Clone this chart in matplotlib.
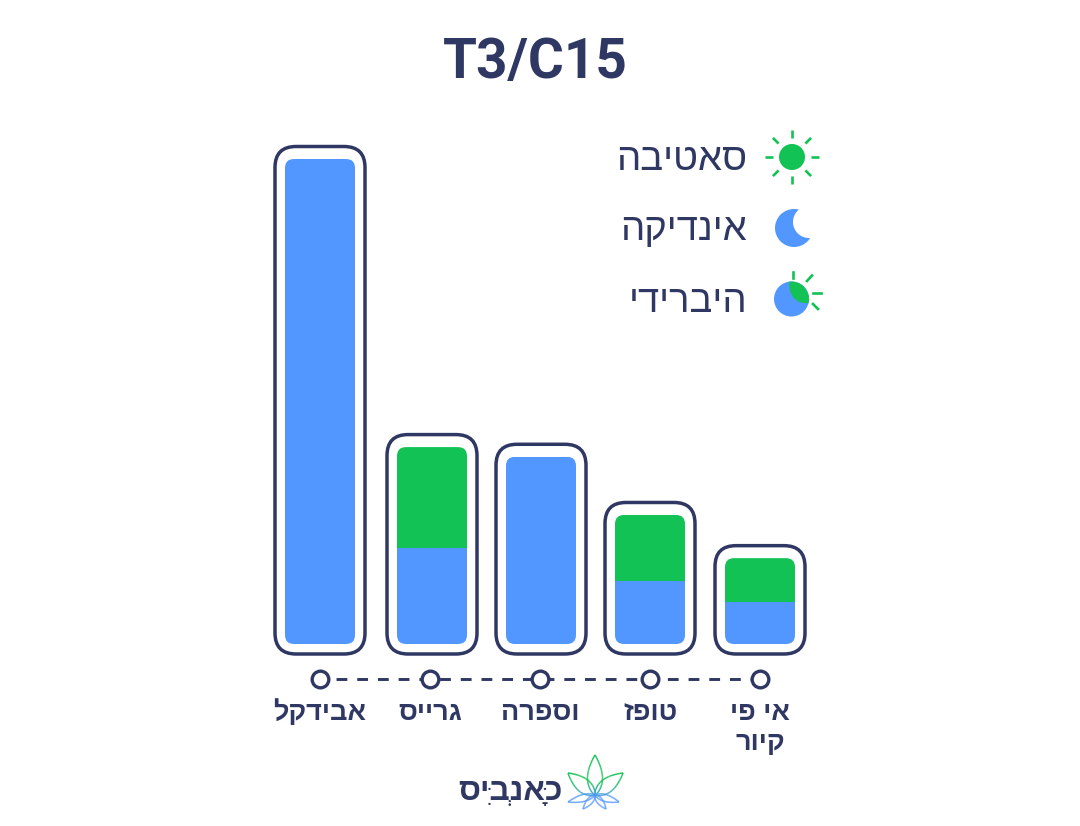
import unicodedata

import numpy as np
import matplotlib
matplotlib.use("Agg")
import matplotlib.pyplot as plt
from matplotlib.collections import LineCollection
from matplotlib.colors import to_rgb
from matplotlib.patches import Circle, FancyBboxPatch, PathPatch
from matplotlib.path import Path

plt.rcParams["font.family"] = ["Liberation Sans", "DejaVu Sans"]

TITLE = "T3/C15"
CATEGORIES = ["אבידקל", "גרייס", "וספרה", "טופז", "אי פי\nקיור"]
INDICA = [100.0, 19.8, 38.6, 13.0, 8.7]
SATIVA = [0.0, 20.8, 0.0, 13.6, 9.0]
LEGEND_LABELS = ["סאטיבה", "אינדיקה", "היברידי"]
LOGO_TEXT = "כָּאנְבִּיס"

NAVY = "#2f3763"
BLUE = "#5197ff"
GREEN = "#12c254"

W, H = 1080, 826
PX_PER_CAT = 110.0
PX_PER_VAL = 4.85
X0, Y0 = 320.0, 644.0
SX = 1.0 / PX_PER_CAT
SY = 1.0 / PX_PER_VAL
ASPECT = SY / SX


def clusters_of(line):
    clusters = []
    for ch in line:
        if unicodedata.combining(ch) and clusters:
            clusters[-1] += ch
        else:
            clusters.append(ch)
    return clusters


def visual(s):
    # matplotlib lays text out left to right, so flip each line
    return "\n".join("".join(reversed(clusters_of(line))) for line in s.split("\n"))


def visual_marks_first(s):
    # no mark positioning in matplotlib: a mark written before its letter lands on the letter
    out = []
    for cluster in reversed(clusters_of(s)):
        out.append(cluster[1:] + cluster[0])
    return "".join(out)


def rounded(x, y, w, h, r_px, **kw):
    return FancyBboxPatch((x, y), w, h, boxstyle=f"round,pad=0,rounding_size={r_px * SX}",
                          mutation_aspect=ASPECT, **kw)


def ray(ax, cx, cy, angle, r0, r1, lw=1.9):
    a = np.radians(angle)
    ax.plot([cx + r0 * np.cos(a), cx + r1 * np.cos(a)],
            [cy - r0 * np.sin(a), cy - r1 * np.sin(a)],
            color=GREEN, lw=lw, solid_capstyle="butt")


def leaf(ax, base, tip, bulge):
    base = np.array(base, float)
    tip = np.array(tip, float)
    d = tip - base
    n = np.array([-d[1], d[0]]) / np.hypot(*d)
    t = np.linspace(0, 1, 40)
    w = bulge * np.sin(np.pi * t ** 0.8) ** 0.9
    pts = np.vstack([
        (base + np.outer(t, d) + np.outer(w, n)),
        (base + np.outer(t, d) - np.outer(w, n))[::-1],
    ])
    segs = np.stack([pts[:-1], pts[1:]], axis=1)
    mid = segs.mean(axis=1)[:, 1]
    f = np.clip((mid - 783) / 14, 0, 1)[:, None]
    cols = (1 - f) * np.array(to_rgb(GREEN)) + f * np.array(to_rgb(BLUE))
    ax.add_collection(LineCollection(segs, colors=cols, linewidths=1.05))


def main():
    fig = plt.figure(figsize=(W / 100, H / 100), dpi=100, facecolor="white")

    # bars axes: same size as the figure, value 0 sits at the bar baseline
    ax = fig.add_axes([0, 0, 1, 1])
    ax.set_xlim(-X0 * SX, (W - X0) * SX)
    ax.set_ylim(-(H - Y0) * SY, Y0 * SY)
    ax.axis("off")

    bar_w = 70 * SX
    pad_x, pad_top, pad_bot = 10 * SX, 12.5 * SY, 10 * SY
    x = np.arange(len(CATEGORIES))
    # bars sit a touch off the tick centres in the original
    nudge = np.array([0, 2, 1, 0, 0]) * SX
    for i in x:
        total = INDICA[i] + SATIVA[i]
        c = i + nudge[i]
        ax.add_patch(rounded(c - bar_w / 2 - pad_x, -pad_bot, bar_w + 2 * pad_x,
                             total + pad_bot + pad_top, 21, fc="white", ec=NAVY, lw=2.5))
        clip = rounded(c - bar_w / 2, 0, bar_w, total, 9, fc="none", ec="none")
        ax.add_patch(clip)
        bars = [ax.bar(c, INDICA[i], bar_w, color=BLUE, lw=0)[0]]
        if SATIVA[i] > 0:
            bars.append(ax.bar(c, SATIVA[i], bar_w, bottom=INDICA[i], color=GREEN, lw=0)[0])
        for b in bars:
            b.set_clip_path(clip)

    # dashed timeline under the bars
    tick_y = -35 * SY
    ax.plot([x[0], x[-1]], [tick_y, tick_y], color=NAVY, lw=2.1, ls=(1.6, (3.7, 3.4)),
            dash_capstyle="butt", zorder=2)
    ax.plot(x, [tick_y] * len(x), "o", ms=12, mfc="white", mec=NAVY, mew=2.4, zorder=3, ls="none")

    for i, label in zip(x, CATEGORIES):
        lines = visual(label).split("\n")
        for k, line in enumerate(lines):
            ax.text(i, (-76 - 30 * k) * SY, line, ha="center", va="baseline",
                    fontsize=19.5, fontweight="bold", color=NAVY)

    # overlay in pixels for title, legend icons and logo
    ov = fig.add_axes([0, 0, 1, 1])
    ov.set_xlim(0, W)
    ov.set_ylim(H, 0)
    ov.axis("off")
    ov.patch.set_alpha(0)

    ov.text(535, 78, TITLE, ha="center", va="baseline", fontsize=39.5, fontweight="bold",
            color=NAVY, family=["Roboto", "DejaVu Sans"])

    for label, base_y in zip(LEGEND_LABELS, [170, 240, 312]):
        ov.text(747, base_y, visual(label), ha="right", va="baseline", fontsize=27.5, color=NAVY)

    # sun
    ov.add_patch(Circle((792, 157), 13, fc=GREEN, ec="none"))
    for ang in range(0, 360, 45):
        ray(ov, 792, 157, ang, 19, 27)

    # moon
    ov.add_patch(Circle((794, 228), 19, fc=BLUE, ec="none"))
    ov.add_patch(Circle((809, 222), 16, fc="white", ec="none"))

    # half sun half moon
    cx, cy, r = 791.5, 299, 17.5
    ov.add_patch(Circle((cx, cy), r, fc=BLUE, ec="none"))
    a = np.radians(np.linspace(98, -14, 30))
    arc = np.column_stack([cx + r * np.cos(a), cy - r * np.sin(a)])
    p1, c, p2 = arc[-1], np.array([789, 303.6]), arc[0]
    t = np.linspace(0, 1, 20)[:, None]
    back = (1 - t) ** 2 * p1 + 2 * t * (1 - t) * c + t ** 2 * p2
    ov.add_patch(PathPatch(Path(np.vstack([arc, back])), fc=GREEN, ec="none"))
    ov.plot([793, 793], [272, 277.5], color=GREEN, lw=1.9)
    ov.plot([807, 812], [281, 275.5], color=GREEN, lw=1.9)
    ov.plot([813, 821], [293, 293], color=GREEN, lw=1.9)
    ov.plot([813, 818], [304, 309], color=GREEN, lw=1.9)

    # logo
    ov.text(563, 800, visual_marks_first(LOGO_TEXT), ha="right", va="baseline", fontsize=22.8,
            fontweight="bold", color=NAVY)
    base = (595, 795)
    leaf(ov, base, (595, 755), 7.5)
    leaf(ov, base, (568, 773), 7)
    leaf(ov, base, (623, 773), 7)
    leaf(ov, base, (568, 802), 3.5)
    leaf(ov, base, (619, 802), 3.5)
    leaf(ov, base, (583, 809), 3)
    leaf(ov, base, (606, 809), 3)

    fig.savefig("out.png", dpi=100)
    plt.close(fig)


if __name__ == "__main__":
    main()
